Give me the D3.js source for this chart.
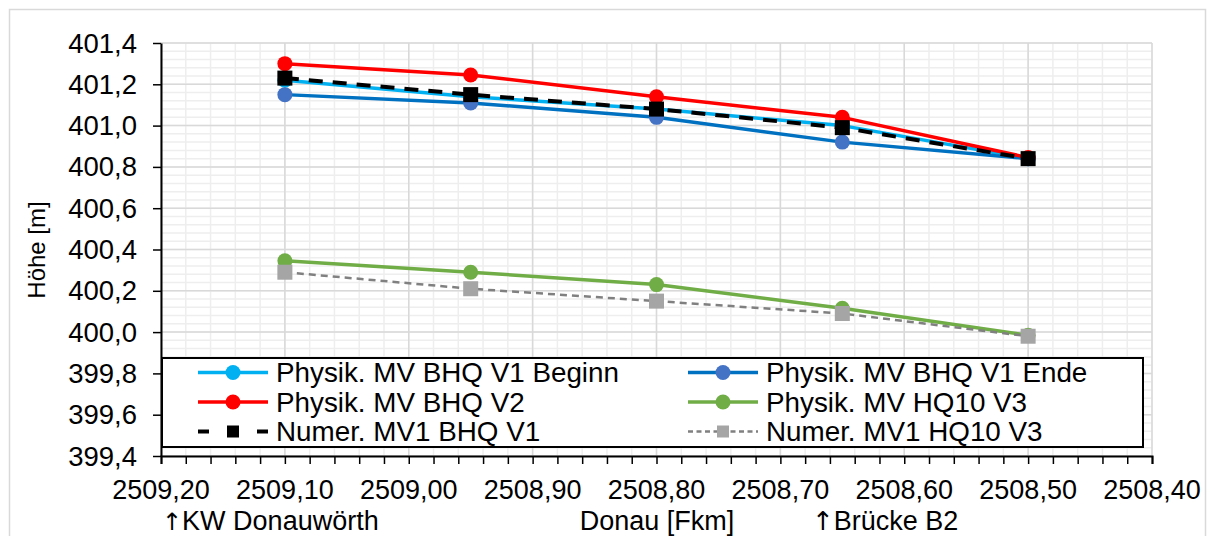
<!DOCTYPE html>
<html>
<head>
<meta charset="utf-8">
<script src="https://cdn.jsdelivr.net/npm/d3@7"></script>
<style>
html,body{margin:0;padding:0;background:#fff;}
svg{display:block;}
text{font-family:"Liberation Sans",Arial,sans-serif;fill:#000;}
</style>
</head>
<body>
<svg id="chart" width="1215" height="536"></svg>
<script>
// ---- data ----
const fkm = [2509.10, 2508.95, 2508.80, 2508.65, 2508.50];
const physBeginn = [401.22, 401.14, 401.08, 401.00, 400.84];
const physEnde   = [401.15, 401.11, 401.04, 400.92, 400.84];
const physV2     = [401.30, 401.245, 401.14, 401.04, 400.845];
const physHQ10   = [400.345, 400.29, 400.23, 400.115, 399.985];
const numBHQ     = [401.23, 401.15, 401.08, 400.99, 400.84];
const numHQ10    = [400.29, 400.21, 400.15, 400.09, 399.98];
const seriesNames = ["Physik. MV BHQ V1 Beginn","Physik. MV BHQ V1 Ende","Physik. MV BHQ V2","Physik. MV HQ10 V3","Numer. MV1 BHQ V1","Numer. MV1 HQ10 V3"];
const xTicks = [2509.20,2509.10,2509.00,2508.90,2508.80,2508.70,2508.60,2508.50,2508.40];
const yTicks = [399.4,399.6,399.8,400.0,400.2,400.4,400.6,400.8,401.0,401.2,401.4];
const xTitleParts = ["KW Donauwörth","Donau [Fkm]","Brücke B2"];
const yTitle = "Höhe [m]";

const styles = [
  {line:"#00B0F0", marker:"#00B0F0", shape:"circle", w:3.5, dash:null},
  {line:"#0070C0", marker:"#4472C4", shape:"circle", w:3.5, dash:null},
  {line:"#FF0000", marker:"#FF0000", shape:"circle", w:3.5, dash:null},
  {line:"#70AD47", marker:"#70AD47", shape:"circle", w:3.5, dash:null},
  {line:"#000000", marker:"#000000", shape:"square", w:4, dash:"14,10"},
  {line:"#808080", marker:"#A5A5A5", shape:"square", w:2.5, dash:"7,5"}
];
const seriesData = [physBeginn, physEnde, physV2, physHQ10, numBHQ, numHQ10];

const svg = d3.select("#chart");
const L = 161, R = 1152, T = 43, B = 456;
const x = d3.scaleLinear().domain([2509.20, 2508.40]).range([L, R]);
const y = d3.scaleLinear().domain([399.4, 401.4]).range([B, T]);
const fmt2 = v => d3.format(".2f")(v).replace(".", ",");
const fmt1 = v => d3.format(".1f")(v).replace(".", ",");

// outer chart border
svg.append("rect").attr("x",9.5).attr("y",9.5).attr("width",1196).attr("height",600)
  .attr("fill","#fff").attr("stroke","#d9d9d9").attr("stroke-width",1.5);

// minor gridlines
const xMinor = d3.range(0, 41).map(i => 2509.20 - i*0.02);
const yMinor = d3.range(0, 51).map(i => 399.4 + i*0.04);
const g = svg.append("g");
g.selectAll(".xm").data(xMinor).enter().append("line")
  .attr("x1", d=>x(d)).attr("x2", d=>x(d)).attr("y1", T).attr("y2", B)
  .attr("stroke","#eeeeee").attr("stroke-width",1.5);
g.selectAll(".ym").data(yMinor).enter().append("line")
  .attr("x1", L).attr("x2", R).attr("y1", d=>y(d)).attr("y2", d=>y(d))
  .attr("stroke","#eeeeee").attr("stroke-width",1.5);
// major gridlines
g.selectAll(".xM").data(xTicks).enter().append("line")
  .attr("x1", d=>x(d)).attr("x2", d=>x(d)).attr("y1", T).attr("y2", B)
  .attr("stroke","#d9d9d9").attr("stroke-width",1.5);
g.selectAll(".yM").data(yTicks).enter().append("line")
  .attr("x1", L).attr("x2", R).attr("y1", d=>y(d)).attr("y2", d=>y(d))
  .attr("stroke","#d9d9d9").attr("stroke-width",1.5);

// series
seriesData.forEach((vals, si) => {
  const st = styles[si];
  const pts = fkm.map((k,i)=>[k, vals[i]]);
  const line = d3.line().x(d=>x(d[0])).y(d=>y(d[1]));
  svg.append("path").datum(pts).attr("d", line).attr("fill","none")
    .attr("stroke", st.line).attr("stroke-width", st.w)
    .attr("stroke-dasharray", st.dash).attr("stroke-linejoin","round");
  const mg = svg.append("g");
  if (st.shape === "circle") {
    mg.selectAll("circle").data(pts).enter().append("circle")
      .attr("cx", d=>x(d[0])).attr("cy", d=>y(d[1])).attr("r", 7.5)
      .attr("fill", st.marker);
  } else {
    const s = 15;
    mg.selectAll("rect").data(pts).enter().append("rect")
      .attr("x", d=>x(d[0])-s/2).attr("y", d=>y(d[1])-s/2).attr("width", s).attr("height", s)
      .attr("fill", st.marker);
  }
});

// axes
const xAxisG = svg.append("g").attr("transform", `translate(0,${B})`);
xAxisG.call(d3.axisBottom(x).tickValues(xMinor).tickSize(8).tickFormat(""));
xAxisG.select(".domain").attr("stroke","#000").attr("stroke-width",2);
xAxisG.selectAll(".tick line").attr("stroke","#000").attr("stroke-width",1.5);
svg.append("g").selectAll("text").data(xTicks).enter().append("text")
  .attr("x", d=>x(d)).attr("y", 499).attr("text-anchor","middle")
  .style("font-size","27px").text(d=>fmt2(d));

const yAxisG = svg.append("g").attr("transform", `translate(${L},0)`);
yAxisG.call(d3.axisLeft(y).tickValues(yTicks).tickSize(8).tickSizeOuter(0).tickFormat(""));
yAxisG.select(".domain").attr("stroke","#000").attr("stroke-width",2);
yAxisG.selectAll(".tick line").attr("stroke","#000").attr("stroke-width",1.5);
svg.append("g").selectAll("text").data(yTicks).enter().append("text")
  .attr("x", 137).attr("y", d=>y(d)+9.5).attr("text-anchor","end")
  .style("font-size","27.5px").text(d=>fmt1(d));

// axis titles
svg.append("text").attr("transform","translate(45,250) rotate(-90)")
  .attr("text-anchor","middle").style("font-size","24px").text(yTitle);
const t1 = svg.append("text").attr("x",162).attr("y",530).style("font-size","27px");
t1.append("tspan").style("font-family","DejaVu Sans").style("font-size","24px").text("↑");
t1.append("tspan").text(xTitleParts[0]);
svg.append("text").attr("x",657).attr("y",530).attr("text-anchor","middle").style("font-size","27px").text(xTitleParts[1]);
const t3 = svg.append("text").attr("x",812).attr("y",530).style("font-size","27px");
t3.append("tspan").style("font-family","DejaVu Sans").style("font-size","26px").text("↑");
t3.append("tspan").text(xTitleParts[2]);

// legend
const lg = svg.append("g");
lg.append("rect").attr("x",162).attr("y",358).attr("width",981).attr("height",89)
  .attr("fill","#fff").attr("stroke","#000").attr("stroke-width",2);
const colX = [198, 688];
const rowY = [372.5, 402, 431.5];
seriesNames.forEach((name, i) => {
  const st = styles[i];
  const cx0 = colX[i % 2], cy = rowY[Math.floor(i/2)];
  const item = lg.append("g");
  if (i === 4) {
    item.append("line").attr("x1",cx0).attr("x2",cx0+11).attr("y1",cy).attr("y2",cy)
      .attr("stroke",st.line).attr("stroke-width",st.w);
    item.append("line").attr("x1",cx0+59).attr("x2",cx0+70).attr("y1",cy).attr("y2",cy)
      .attr("stroke",st.line).attr("stroke-width",st.w);
  } else {
    item.append("line").attr("x1",cx0).attr("x2",cx0+70).attr("y1",cy).attr("y2",cy)
      .attr("stroke",st.line).attr("stroke-width",st.w)
      .attr("stroke-dasharray", i === 5 ? "5,3.5" : null);
  }
  if (st.shape === "circle") {
    item.append("circle").attr("cx",cx0+35).attr("cy",cy).attr("r",7.5).attr("fill",st.marker);
  } else {
    item.append("rect").attr("x",cx0+35-6).attr("y",cy-6).attr("width",12).attr("height",12).attr("fill",st.marker);
  }
  item.append("text").attr("x",cx0+78).attr("y",cy+9.5).style("font-size","27.8px").text(name);
});
</script>
</body>
</html>
